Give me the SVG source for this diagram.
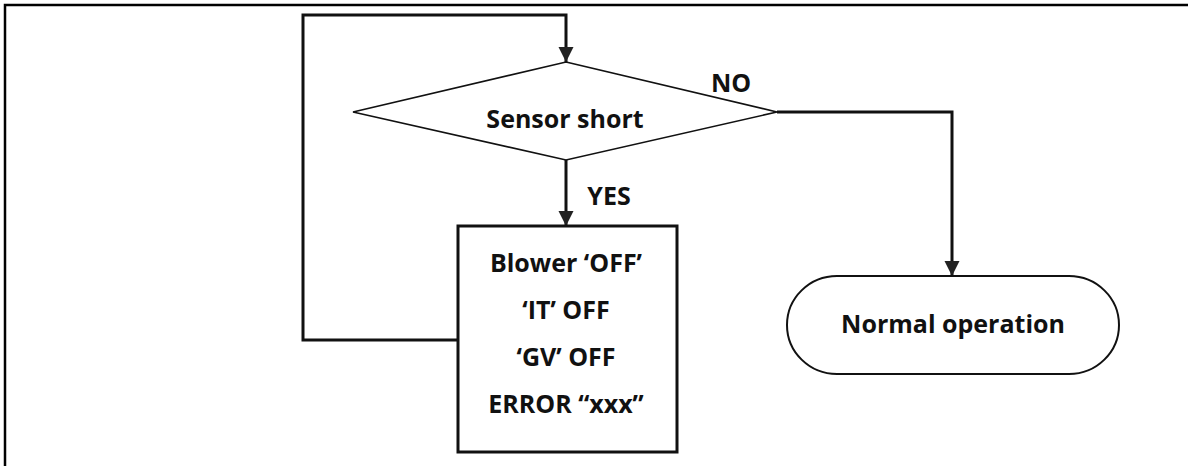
<svg xmlns="http://www.w3.org/2000/svg" width="1188" height="466" viewBox="0 0 1188 466">
<style>
.t{font-family:"Open Sans","Liberation Sans",sans-serif;font-weight:bold;font-size:25px;fill:#111;text-anchor:middle}
.c{fill:none;stroke:#111;stroke-width:3}
</style>
<defs>
<marker id="ah" markerUnits="userSpaceOnUse" markerWidth="16" markerHeight="16" refX="15" refY="7.5" orient="auto">
<path d="M0,0 L15,7.5 L0,15 Z" fill="#222"/>
</marker>
</defs>
<rect width="1188" height="466" fill="#fff"/>
<g id="frame">
<path d="M5,466 V5 H1188" fill="none" stroke="#000" stroke-width="2.5"/>
</g>
<g id="connectors">
<path class="c" d="M458,340 H303 V15 H566 V62" marker-end="url(#ah)"/>
<path class="c" d="M566,160 V226" marker-end="url(#ah)"/>
<path class="c" d="M777,112 H952 V276" marker-end="url(#ah)"/>
<text class="t" x="731" y="92">NO</text>
<text class="t" x="609" y="205">YES</text>
</g>
<g id="decision">
<polygon points="566,62 777,112 566,160 353,112" fill="#fff" stroke="#111" stroke-width="1.6"/>
<text class="t" x="565" y="128">Sensor short</text>
</g>
<g id="action">
<rect x="458" y="226" width="219" height="226" fill="#fff" stroke="#111" stroke-width="3"/>
<text class="t" x="566" y="272">Blower ‘OFF’</text>
<text class="t" x="566" y="319">‘IT’ OFF</text>
<text class="t" x="566" y="366">‘GV’ OFF</text>
<text class="t" x="566" y="413">ERROR “xxx”</text>
</g>
<g id="normal">
<rect x="787" y="276" width="332" height="98" rx="50" ry="49" fill="#fff" stroke="#111" stroke-width="2"/>
<text class="t" x="953" y="333">Normal operation</text>
</g>
</svg>
